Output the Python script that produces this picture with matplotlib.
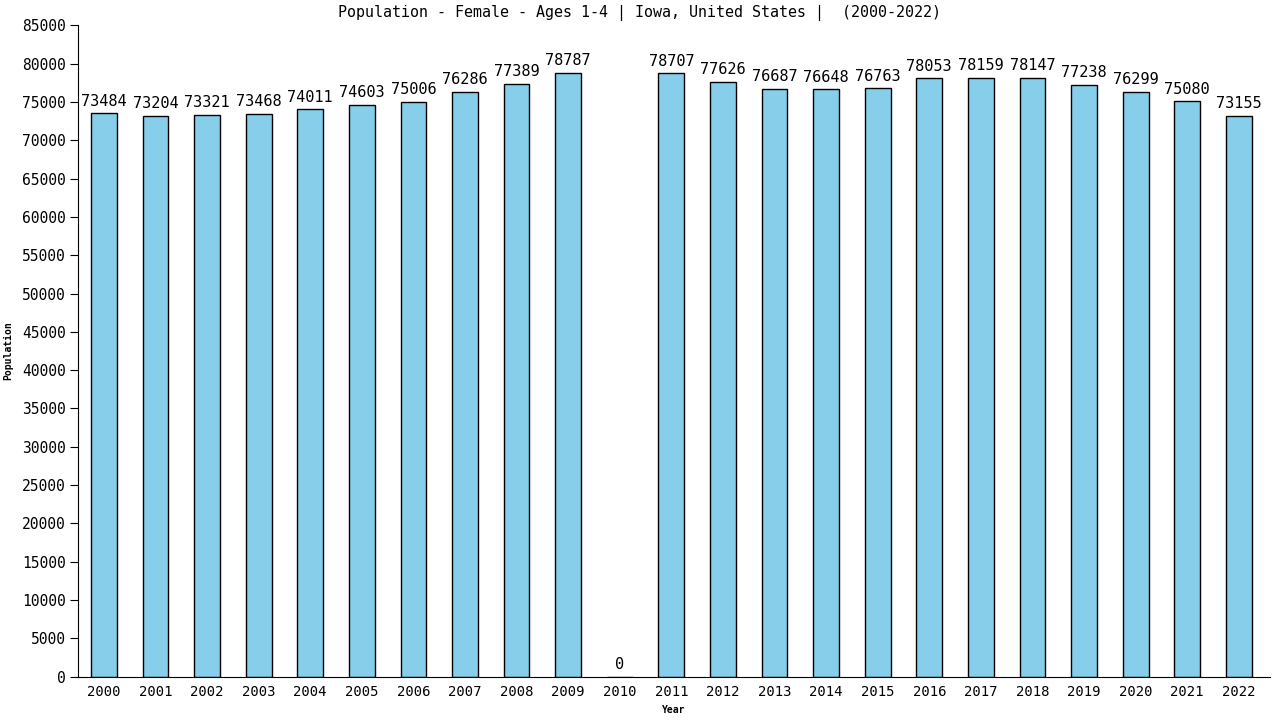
import matplotlib.pyplot as plt
import numpy as np

# data
years = [str(y) for y in range(2000, 2023)]
population = [73484, 73204, 73321, 73468, 74011, 74603, 75006, 76286, 77389, 78787,
              0, 78707, 77626, 76687, 76648, 76763, 78053, 78159, 78147, 77238,
              76299, 75080, 73155]
y_ticks = list(range(0, 85001, 5000))

plt.rcParams['font.family'] = ['DejaVu Sans Mono']

fig = plt.figure(figsize=(12.8, 7.2), dpi=100)
ax = fig.add_axes([0.061, 0.06, 0.931, 0.905])

x = np.arange(len(years))
ax.bar(x, population, width=0.5, color='#87ceeb', edgecolor='black', linewidth=1)

for xi, v in zip(x, population):
    ax.text(xi, v + 600, str(v), ha='center', va='bottom', fontsize=11)

ax.set_xlim(-0.5, len(years) - 0.4)
ax.set_ylim(0, 85000)
ax.set_xticks(x)
ax.set_xticklabels(years, fontsize=10)
ax.set_yticks(y_ticks)
ax.set_yticklabels([str(t) for t in y_ticks], fontsize=10.5)
ax.tick_params(axis='x', length=0, pad=6)
ax.tick_params(axis='y', length=6, pad=3)

ax.spines['top'].set_visible(False)
ax.spines['right'].set_visible(False)

ax.set_xlabel('Year', fontsize=7, fontweight='bold', labelpad=4)
ax.set_ylabel('Population', fontsize=7, fontweight='bold', labelpad=6)
fig.suptitle('Population - Female - Ages 1-4 | Iowa, United States |  (2000-2022)',
             fontsize=10.8, y=0.993)

fig.savefig('out.png', dpi=100)
